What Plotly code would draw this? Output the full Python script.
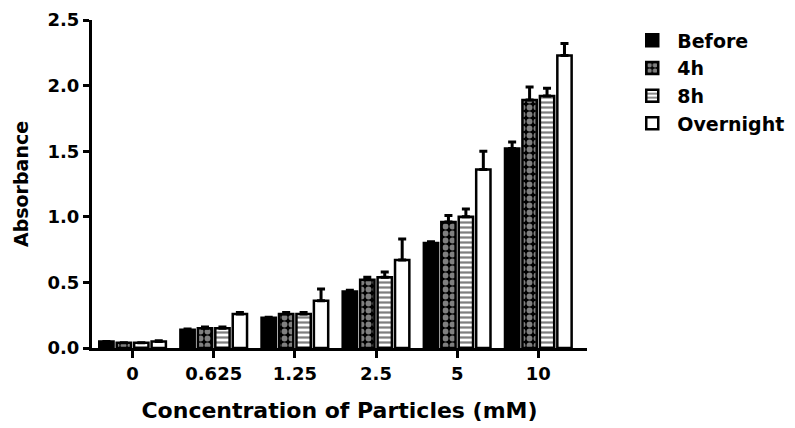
import plotly.graph_objects as go

categories = ["0", "0.625", "1.25", "2.5", "5", "10"]
before = [0.05, 0.14, 0.23, 0.43, 0.80, 1.52]
before_err = [0.0, 0.005, 0.005, 0.01, 0.01, 0.05]
h4 = [0.04, 0.15, 0.26, 0.52, 0.96, 1.89]
h4_err = [0.0, 0.01, 0.01, 0.02, 0.05, 0.10]
h8 = [0.04, 0.15, 0.26, 0.54, 1.00, 1.92]
h8_err = [0.0, 0.01, 0.01, 0.04, 0.06, 0.06]
overnight = [0.05, 0.26, 0.36, 0.67, 1.36, 2.23]
overnight_err = [0.005, 0.01, 0.09, 0.16, 0.14, 0.09]

series = [
    ("Before", before, before_err, dict(color="black")),
    ("4h", h4, h4_err, dict(color="black", pattern=dict(shape=".", fgcolor="white", bgcolor="black", size=7, solidity=0.55))),
    ("8h", h8, h8_err, dict(color="white", pattern=dict(shape="-", fgcolor="black", bgcolor="white", size=5, solidity=0.45))),
    ("Overnight", overnight, overnight_err, dict(color="white")),
]

font = dict(family="DejaVu Sans, Liberation Sans, Arial, sans-serif", color="black", weight="bold")

fig = go.Figure()
for name, vals, errs, mk in series:
    mk = dict(mk)
    mk["line"] = dict(color="black", width=2.5)
    fig.add_trace(go.Bar(
        name=name, x=categories, y=vals,
        marker=mk,
        error_y=dict(type="data", symmetric=False, array=errs, arrayminus=[0] * len(errs),
                     color="black", thickness=3, width=4),
    ))

fig.update_layout(
    width=795, height=428,
    margin=dict(l=92, r=208, t=20, b=80, autoexpand=False),
    paper_bgcolor="white", plot_bgcolor="white",
    barmode="group", bargap=0.14, bargroupgap=0.18,
    font=font,
    legend=dict(x=0.789, y=0.95, xref="container", yref="container",
                xanchor="left", yanchor="top",
                font=dict(size=19, **font), itemwidth=40),
    showlegend=True,
)
fig.update_xaxes(
    type="category", range=[-0.5, 5.6],
    showline=True, linecolor="black", linewidth=3,
    ticks="outside", tickwidth=3, ticklen=7, tickcolor="black",
    tickfont=dict(size=18, **font),
    title=dict(text="Concentration of Particles (mM)", font=dict(size=22, **font), standoff=21),
    showgrid=False, zeroline=False, automargin=False,
)
fig.update_yaxes(
    range=[0, 2.5], dtick=0.5, tickformat=".1f",
    showline=True, linecolor="black", linewidth=3,
    ticks="outside", tickwidth=3, ticklen=6, tickcolor="black",
    tickfont=dict(size=18, **font),
    title=dict(text="Absorbance", font=dict(size=19, **font), standoff=14),
    showgrid=False, zeroline=False, automargin=False,
)

fig.write_html("out.html")
